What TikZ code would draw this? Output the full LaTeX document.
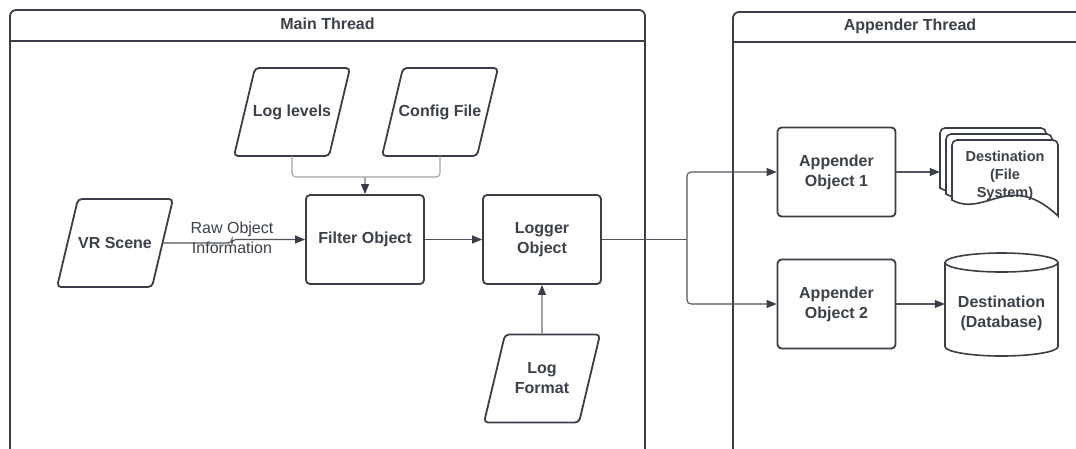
\documentclass[tikz,border=0pt]{standalone}
\usepackage{fontspec}
\setmainfont{Liberation Sans}
\usetikzlibrary{arrows.meta,calc}

\definecolor{ink}{HTML}{3A3F47}
\definecolor{txt}{HTML}{3C4149}
\definecolor{wiredark}{HTML}{50555D}
\definecolor{wirelight}{HTML}{A0A4AA}

\tikzset{
  frame/.style={draw=ink, line width=1.8pt, rounded corners=6pt},
  framelabel/.style={font=\bfseries\fontsize{16}{19}\selectfont, text=txt, inner sep=0pt},
  procbox/.style={draw=ink, line width=1.8pt, rounded corners=4pt, fill=white,
    minimum width=118pt, minimum height=89pt, inner sep=0pt, align=center,
    font=\bfseries\fontsize{16}{20}\selectfont, text=txt},
  paratext/.style={minimum width=95pt, minimum height=88pt, inner sep=0pt, align=center,
    font=\bfseries\fontsize{16}{20}\selectfont, text=txt},
  parashape/.style={draw=ink, line width=1.8pt, rounded corners=4pt},
  storetext/.style={inner sep=0pt, align=center, text=txt},
  docpage/.style={draw=ink, line width=1.6pt, fill=white},
  arrowed/.style={-{Triangle[length=10pt,width=8pt,color=ink]}},
  wire/.style={draw=wiredark, line width=1.1pt, rounded corners=4pt},
  wirelt/.style={draw=wirelight, line width=1.1pt, rounded corners=4pt},
  edgelabel/.style={font=\fontsize{16}{20}\selectfont, text=txt, align=center, inner sep=0pt},
}

% slanted input/output shape around a named text node
\newcommand\ioshape[4]{%
  \node[paratext] (#1) at (#2,#3) {#4};
  \draw[parashape] ([shift={(-37,-44)}]#1.center) -- ([shift={(58,-44)}]#1.center)
    -- ([shift={(37,44)}]#1.center) -- ([shift={(-58,44)}]#1.center) -- cycle;
}

% one sheet of the stacked document symbol
\newcommand\sheet{%
  \draw[docpage] (952,200) [rounded corners=5pt] -- (952,140) -- (1058,140)
    [sharp corners] -- (1058,216) .. controls (1010,170) and (985,218) .. (952,200) -- cycle;
}

\begin{document}
\begin{tikzpicture}[x=1pt,y=-1pt]
  \useasboundingbox (0,0) rectangle (1076,448);
  \clip (0,0) rectangle (1076,448);
  \fill[white] (0,0) rectangle (1076,448);

  % swimlanes
  \draw[frame] (10,470) -- (10,10) -- (645,10) -- (645,470);
  \draw[draw=ink, line width=1.8pt] (10,41) -- (645,41);
  \node[framelabel] (mainhdr) at (327.5,24) {Main Thread};

  \draw[frame] (733,470) -- (733,12) -- (1087,12) -- (1087,470);
  \draw[draw=ink, line width=1.8pt] (733,42) -- (1087,42);
  \node[framelabel] (apphdr) at (910,26) {Appender Thread};

  % main thread
  \ioshape{vr}{115}{243}{VR Scene}
  \ioshape{loglevels}{292}{112}{Log levels}
  \ioshape{config}{440}{112}{Config File}
  \ioshape{logformat}{542}{378.5}{Log\\Format}

  \node[procbox] (filter) at (365,239.5) {Filter Object};
  \node[procbox] (logger) at (542,239.5) {Logger\\Object};

  % appender thread
  \node[procbox] (app1) at (836.5,172) {Appender\\Object 1};
  \node[procbox] (app2) at (836.5,304) {Appender\\Object 2};

  % stacked document store
  \begin{scope}[shift={(-12,-12)}]\sheet\end{scope}
  \begin{scope}[shift={(-6,-6)}]\sheet\end{scope}
  \sheet
  \node[storetext, font=\bfseries\fontsize{14.5}{18}\selectfont, minimum width=130pt]
    (dest1) at (1005,176) {Destination\\(File\\System)};

  % database cylinder
  \draw[docpage] (945,262.5) -- (945,346.5)
    arc[start angle=180, end angle=360, x radius=56.5pt, y radius=9.5pt]
    -- (1058,262.5);
  \draw[docpage] (1001.5,262.5) ellipse [x radius=56.5pt, y radius=9.5pt];
  \node[storetext, font=\bfseries\fontsize{16}{20}\selectfont, minimum width=113pt]
    (dest2) at (1001.5,313) {Destination\\(Database)};

  % connectors
  \node[edgelabel] (rawlbl) at (232,238) {Raw Object\\Information};
  \draw[wire, arrowed] (vr.east) -- (rawlbl.center |- vr.east) |- (filter.west);

  \coordinate (cfgjoin) at (365,177);
  \draw[wirelt] (loglevels.south) |- (cfgjoin);
  \draw[wirelt] (config.south) |- (cfgjoin);
  \draw[wirelt, arrowed] (cfgjoin) -- (filter.north);

  \draw[wire, arrowed] (filter.east) -- (logger.west);
  \draw[wirelt, arrowed] (logformat.north) -- (logger.south);

  \coordinate (split) at (687,239.5);
  \draw[wire] (logger.east) -- (split);
  \draw[wire, arrowed] (split) |- (app1.west);
  \draw[wire, arrowed] (split) |- (app2.west);

  \draw[wire, arrowed] (app1.east) -- (app1.east -| dest1.west);
  \draw[wire, arrowed] (app2.east) -- (app2.east -| dest2.west);
\end{tikzpicture}
\end{document}
